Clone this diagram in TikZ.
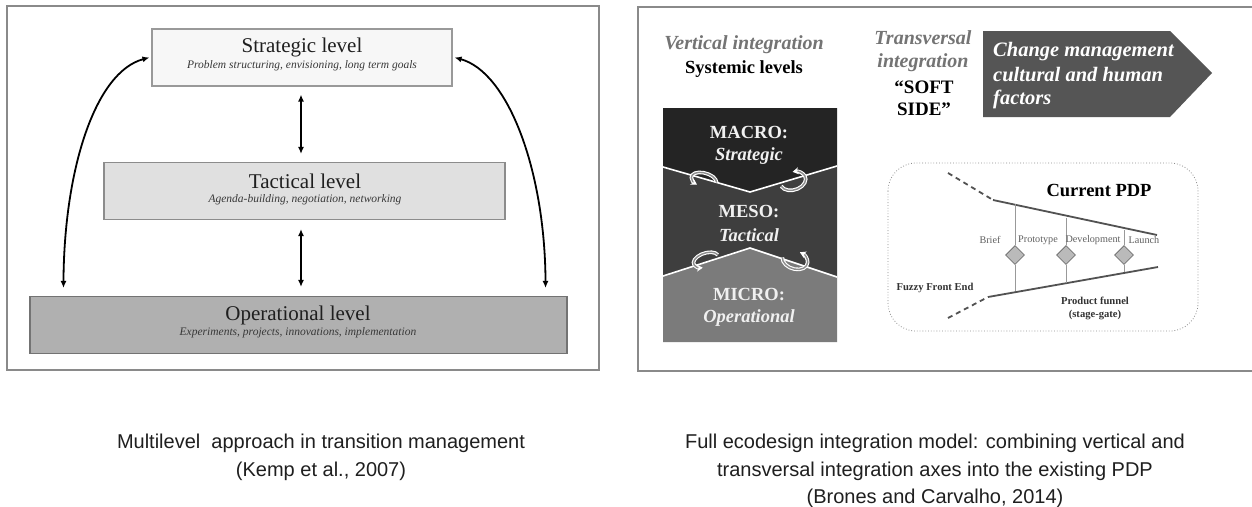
\documentclass[tikz,border=0pt]{standalone}
\usepackage{fontspec}
\setmainfont{Liberation Serif}
\newfontfamily\capfont{Liberation Sans}
\usetikzlibrary{shapes.geometric,arrows.meta,calc}

\newcommand\fsz[1]{\fontsize{#1}{#1}\selectfont}

\definecolor{framegray}{HTML}{8A8A8A}
\definecolor{macrofill}{HTML}{242424}
\definecolor{mesofill}{HTML}{3E3E3E}
\definecolor{microfill}{HTML}{7B7B7B}
\definecolor{arrowfill}{HTML}{555555}
\definecolor{softgray}{HTML}{747474}

\tikzset{
  panel/.style={draw=framegray, line width=1.6pt},
  lvbox/.style={draw=#1, line width=1.1pt, inner sep=0pt, minimum height=57pt},
  lvtitle/.style={font=\fsz{21}, text=black!88, inner sep=0pt},
  lvsub/.style={font=\fsz{11.5}\itshape, text=black!78, inner sep=0pt},
  dbl/.style={{Latex[length=7pt,width=6pt]}-{Latex[length=7pt,width=6pt]}, line width=1.8pt},
  head/.style={font=\fsz{20}\bfseries\itshape, text=softgray, inner sep=0pt},
  headblack/.style={font=\fsz{18.5}\bfseries, text=black, inner sep=0pt},
  lvl/.style={font=\fsz{18.5}\bfseries, text=white!94!black, inner sep=0pt},
  lvli/.style={font=\fsz{18.5}\bfseries\itshape, text=white!94!black, inner sep=0pt},
  sep/.style={draw=white, line width=1.6pt},
  ringout/.style={draw=white, line width=3.6pt, -{Stealth[length=6pt,width=7pt]}},
  ringin/.style={draw=black!45, line width=1.4pt},
  change/.style={font=\fsz{20.5}\bfseries\itshape, text=white, inner sep=0pt, anchor=west},
  funnel/.style={draw=black!68, line width=1.8pt},
  ffe/.style={funnel, dash pattern=on 5pt off 4pt},
  gateline/.style={draw=black!40, line width=1pt},
  gate/.style={diamond, draw=black!55, fill=black!27, line width=0.8pt, inner sep=0pt, minimum width=19pt, minimum height=19pt},
  stage/.style={font=\fsz{10.2}, text=black!62, inner sep=0pt},
  small/.style={font=\fsz{10.6}\bfseries, text=black!80, inner sep=0pt},
  caption/.style={font=\capfont\fsz{20}, text=black!88, inner sep=0pt}
}

% a ribbon-like loop arrow: centre, tilt, start angle, end angle, x radius, y radius
\newcommand\looparrow[6]{%
  \begin{scope}[shift={#1}, rotate=#2]
    \draw[ringout] (#3:#5 and #6) arc[start angle=#3, end angle=#4, x radius=#5, y radius=#6];
    \draw[ringin, shorten >=5pt] (#3:#5 and #6) arc[start angle=#3, end angle=#4, x radius=#5, y radius=#6];
  \end{scope}}

\begin{document}
\begin{tikzpicture}[x=1pt,y=-1pt]
\useasboundingbox (0,0) rectangle (1252,506);
\fill[white] (0,0) rectangle (1252,506);

% ---------- left panel: multilevel transition management ----------
\draw[panel] (7,6) rectangle (599,370);

\node[lvbox=black!40, fill=black!3, minimum width=300pt] (s) at (302,57.5) {};
\node[lvbox=black!45, fill=black!12, minimum width=401pt] (t) at (304.5,191) {};
\node[lvbox=black!55, fill=black!31, minimum width=537pt] (o) at (298.5,325) {};

\node[lvtitle] (st) at (302,47) {Strategic level};
\node[lvsub] (ss) at (302,66) {Problem structuring, envisioning, long term goals};
\node[lvtitle] (tt) at (305,181) {Tactical level};
\node[lvsub] (ts) at (305,200) {Agenda-building, negotiation, networking};
\node[lvtitle] (ot) at (298,315) {Operational level};
\node[lvsub] (os) at (298,333) {Experiments, projects, innovations, implementation};

\draw[dbl] ([xshift=-1pt,yshift=-8pt]s.south) -- ([xshift=-1pt,yshift=8pt]s.south |- t.north);
\draw[dbl] ([xshift=-3.5pt,yshift=-9pt]t.south) -- ([xshift=-3.5pt,yshift=9pt]t.south |- o.north);
\draw[dbl] ([xshift=-2pt]s.west) .. controls (95,72) and (64,170) .. ([xshift=34pt,yshift=8pt]o.north west);
\draw[dbl] ([xshift=2pt]s.east) .. controls (508,72) and (545,170) .. ([xshift=-22pt,yshift=8pt]o.north east);

% ---------- right panel: ecodesign integration model ----------
\draw[panel] (1253,7) -- (638,7) -- (638,371) -- (1253,371);

\node[head] (vi) at (744,45) {Vertical integration};
\node[headblack] (sl) at (744,69) {Systemic levels};
\node[head] (tr1) at (923,38) {Transversal};
\node[head] (tr2) at (923,63) {integration};
\node[headblack, font=\fsz{19}\bfseries] (so1) at (924,87) {“SOFT};
\node[headblack, font=\fsz{19}\bfseries] (so2) at (924,109) {SIDE”};

% change-management arrow
\fill[arrowfill] (983,31) -- (1170,31) -- (1212,73) -- (1170,117) -- (983,117) -- cycle;
\node[change] (c1) at (993,52) {Change management};
\node[change] (c2) at (993,75) {cultural and human};
\node[change] (c3) at (993,99) {factors};

% stacked systemic levels
\fill[macrofill] (663,108) -- (837,108) -- (837,166) -- (750,192) -- (663,167) -- cycle;
\fill[mesofill] (663,167) -- (750,192) -- (837,166) -- (837,277) -- (750,248) -- (663,276) -- cycle;
\fill[microfill] (663,276) -- (750,248) -- (837,277) -- (837,342) -- (663,342) -- cycle;
\draw[sep] (663,167) -- (750,192) -- (837,166);
\draw[sep] (663,276) -- (750,248) -- (837,277);

% feedback loops across the level boundaries
\looparrow{(704,180)}{-16}{-10}{-245}{13}{7}
\looparrow{(793,181)}{17}{170}{-80}{13}{9}
\looparrow{(706,260)}{18}{-10}{-245}{13}{7}
\looparrow{(795,260)}{-18}{170}{-80}{13}{9}

\node[lvl] (ma) at (749,133) {MACRO:};
\node[lvli] (mas) at (749,156) {Strategic};
\node[lvl] (me) at (749,212) {MESO:};
\node[lvli] (mes) at (749,235) {Tactical};
\node[lvl] (mi) at (749,295) {MICRO:};
\node[lvli] (mis) at (749,318) {Operational};

% current product development process
\draw[black!45, line width=0.8pt, dotted, rounded corners=28pt] (888,163) rectangle (1198,331);
\node[headblack] (pdp) at (1099,190) {Current PDP};

\coordinate (ud) at (948,173);
\coordinate (ua) at (993,200);
\coordinate (ub) at (1157,235);
\coordinate (ld) at (948,318);
\coordinate (la) at (988,297);
\coordinate (lb) at (1158,267);
\draw[ffe] (ud) -- (ua);
\draw[ffe] (ld) -- (la);
\draw[funnel] (ua) -- (ub);
\draw[funnel] (la) -- (lb);

\node[gate] (g1) at (1015,255) {};
\node[gate] (g2) at (1066,255) {};
\node[gate] (g3) at (1124,255) {};
\draw[gateline] (g1.north) -- ++(0,-41);
\draw[gateline] (g1.south) -- ++(0,26);
\draw[gateline] (g2.north) -- ++(0,-27.5);
\draw[gateline] (g2.south) -- ++(0,18.5);
\draw[gateline] (g3.north) -- ++(0,-15.5);
\draw[gateline] (g3.south) -- ++(0,7.5);

\node[stage] (b1) at (990,240) {Brief};
\node[stage] (b2) at (1038,240) {Prototype};
\node[stage] (b3) at (1093,240) {Development};
\node[stage] (b4) at (1144,240) {Launch};

\node[small] (fz) at (935,288) {Fuzzy Front End};
\node[small] (pf1) at (1095,301) {Product funnel};
\node[small] (pf2) at (1095,315) {(stage-gate)};

% ---------- captions ----------
\node[caption] (cl1) at (321,443) {Multilevel\ \ approach in transition management};
\node[caption] (cl2) at (321,471) {(Kemp et al., 2007)};
\node[caption] (cr1) at (935,443) {Full ecodesign integration model: combining vertical and};
\node[caption] (cr2) at (935,471) {transversal integration axes into the existing PDP};
\node[caption] (cr3) at (935,498) {(Brones and Carvalho, 2014)};
\end{tikzpicture}
\end{document}
